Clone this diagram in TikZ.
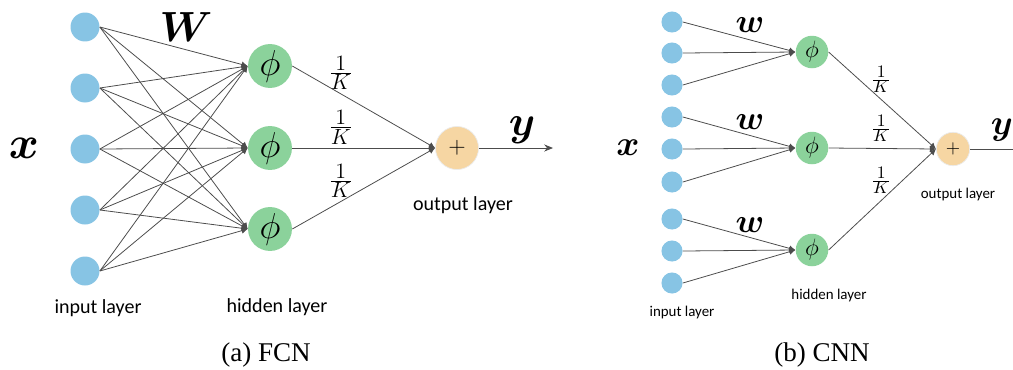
\RequirePackage{fix-cm}
\documentclass[tikz,border=0pt]{standalone}
\usepackage{amsmath}
\usepackage{bm}
\usepackage{fontspec}
\setsansfont{Carlito}
\newfontfamily\capfont{Liberation Serif}
\usetikzlibrary{arrows.meta}

\definecolor{inblue}{RGB}{135,196,228}
\definecolor{hidgreen}{RGB}{139,210,155}
\definecolor{outorange}{RGB}{246,214,163}

\newcommand{\invK}{$\frac{\displaystyle 1}{\displaystyle K}$}

\tikzset{
  wire/.style={draw=black!70, line width=0.45pt, -{Latex[length=3.5pt,width=3.5pt]}},
  plainwire/.style={draw=black!70, line width=0.45pt},
  inputa/.style={circle, fill=inblue, inner sep=0pt, minimum size=16.5pt},
  hiddena/.style={circle, fill=hidgreen, inner sep=0pt, minimum size=25pt, font=\fontsize{20.5}{22}\selectfont},
  outputa/.style={circle, fill=outorange, draw=black!8, inner sep=0pt, minimum size=24.5pt, font=\fontsize{13}{15}\selectfont},
  inputb/.style={circle, fill=inblue, inner sep=0pt, minimum size=12pt},
  hiddenb/.style={circle, fill=hidgreen, inner sep=0pt, minimum size=18.5pt, font=\fontsize{13.5}{15}\selectfont},
  outputb/.style={circle, fill=outorange, draw=black!8, inner sep=0pt, minimum size=19pt, font=\fontsize{10.5}{12}\selectfont},
  layera/.style={font=\fontsize{11.4}{13}\sffamily},
  layerb/.style={font=\fontsize{8.5}{10}\sffamily},
  fraca/.style={font=\fontsize{12.5}{14}\selectfont, inner sep=2pt},
  fracb/.style={font=\fontsize{10}{12}\selectfont, inner sep=3.5pt},
  caption/.style={font=\fontsize{15.4}{17}\capfont}
}

\begin{document}
\begin{tikzpicture}[x=0.02cm, y=-0.02cm]
  \useasboundingbox (0,0) rectangle (1013,369);

  % (a) fully connected
  \foreach \i/\y in {1/27,2/88,3/149,4/210,5/271}
    \node[inputa] (a\i) at (85,\y) {};
  \foreach \j/\y in {1/66,2/148,3/229}
    \node[hiddena] (ah\j) at (270,\y) {$\phi$};
  \node[outputa] (ao) at (457,148) {$+$};
  \coordinate (aend) at (553,148);

  \foreach \i in {1,...,5}
    \foreach \j in {1,2,3}
      \path (a\i.east) edge[wire] (ah\j.west);
  \foreach \j in {1,2,3}
    \path (ah\j.east) edge[wire] node[fraca, pos=.34, above] {\invK} (ao.west);
  \path (ao.east) edge[wire, -{Stealth[length=5pt,width=4pt]}] (aend);

  \node[font=\fontsize{26}{28}\selectfont] (ax) at (24,148) {$\bm{x}$};
  \node[font=\fontsize{24}{26}\selectfont] (aW) at (186,27) {$\bm{W}$};
  \node[font=\fontsize{24}{26}\selectfont] (ay) at (522,130) {$\bm{y}$};
  \node[layera] (ain) at (98,308) {input layer};
  \node[layera] (ahid) at (277,307) {hidden layer};
  \node[layera] (aout) at (463,205) {output layer};
  \node[caption] (acap) at (266,355) {(a) FCN};

  % (b) convolutional
  \foreach \i/\y in {1/22,2/53,3/85,4/117,5/149,6/182,7/219,8/251,9/283}
    \node[inputb] (b\i) at (672,\y) {};
  \foreach \j/\y in {1/52,2/148,3/250}
    \node[hiddenb] (bh\j) at (812,\y) {$\phi$};
  \node[outputb] (bo) at (953,149) {$+$};
  \coordinate (bend) at (1013,149);

  \foreach \j in {1,2,3}
    \foreach \k in {0,1,2} {
      \pgfmathtruncatemacro{\i}{3*\j-2+\k}
      \path (b\i.east) edge[wire] (bh\j.west);
    }
  \foreach \j in {1,2,3}
    \path (bh\j.east) edge[wire] node[fracb, pos=.49, above] {\invK} (bo.west);
  \path (bo.east) edge[plainwire] (bend);

  \node[font=\fontsize{20}{22}\selectfont] (bx) at (628,148) {$\bm{x}$};
  \foreach \j/\y in {1/25,2/122,3/225}
    \node[font=\fontsize{19}{21}\selectfont] (bw\j) at (750,\y) {$\bm{w}$};
  \node[font=\fontsize{20}{22}\selectfont] (by) at (1002,130) {$\bm{y}$};
  \node[layerb] (bin) at (682,313) {input layer};
  \node[layerb] (bhid) at (829,296) {hidden layer};
  \node[layerb] (bout) at (958,195) {output layer};
  \node[caption] (bcap) at (822,355) {(b) CNN};
\end{tikzpicture}
\end{document}
